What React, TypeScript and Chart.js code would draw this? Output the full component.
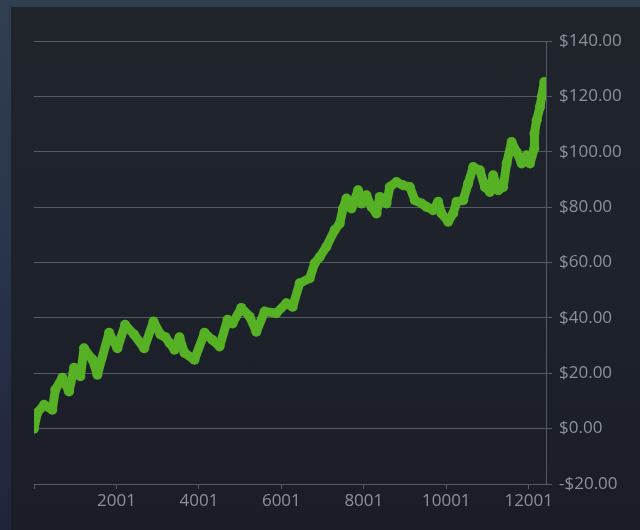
import React, { useEffect, useRef } from "react";
import { Chart, registerables } from "chart.js";

Chart.register(...registerables);

// trade index (x) and running profit in dollars (y)
const steps: number[] = [
  1, 81, 244, 445, 518, 688, 851, 973, 1126, 1215, 1417, 1539, 1823, 2024, 2211, 2430,
  2673, 2899, 3069, 3190, 3287, 3409, 3530, 3651, 3894, 4137, 4332, 4502, 4696, 4818,
  5029, 5231, 5394, 5595, 5879, 6122, 6275, 6445, 6688, 6809, 6931, 7093, 7295, 7417,
  7497, 7580, 7701, 7862, 7944, 8065, 8187, 8308, 8388, 8551, 8631, 8794, 8954, 9117,
  9238, 9401, 9522, 9683, 9804, 9887, 10047, 10168, 10251, 10411, 10532, 10654, 10816,
  10938, 11059, 11139, 11261, 11382, 11465, 11586, 11708, 11829, 11951, 12031, 12136,
  12140, 12194, 12274, 12315, 12378,
];
const profit: number[] = [
  0, 5.7, 8.6, 6.8, 14, 18.4, 13.4, 22, 18.9, 29, 25, 19.5, 34.6, 29, 37.5, 34,
  29, 38.7, 34, 33, 31, 28.5, 33, 27.4, 24.9, 34.6, 32, 29.7, 39.3, 38,
  43.6, 40.5, 35, 42.3, 41.7, 45.3, 44, 52.5, 54.3, 59.7, 62, 65.7, 71.7, 74.1,
  79.5, 83.1, 79.5, 86.1, 81.3, 84.3, 80.1, 77.7, 83.7, 81.3, 87.3, 89.1, 87.9, 87.3,
  82.5, 81.3, 80.1, 78.9, 81.9, 77.7, 74.7, 77.7, 81.9, 82.5, 88.5, 94.5, 93.3,
  87.3, 85.5, 91.5, 86.1, 87.3, 95.8, 103.5, 99.9, 95.8, 98.7, 95.8, 101.2,
  106.6, 111.4, 116.2, 119.8, 125.2,
];
const xTicks: number[] = [1, 2001, 4001, 6001, 8001, 10001, 12001];
const yTicks: number[] = [-20, 0, 20, 40, 60, 80, 100, 120, 140];
const xMax = 12420;

const GRID = "#555b66";
const TEXT = "#8c929b";
const GREEN = "#56b125";

export default function App() {
  const ref = useRef<HTMLCanvasElement | null>(null);

  useEffect(() => {
    if (!ref.current) return;
    const chart = new Chart(ref.current, {
      type: "line",
      data: {
        datasets: [
          {
            data: steps.map((s, i) => ({ x: s, y: profit[i] })),
            borderColor: GREEN,
            backgroundColor: GREEN,
            borderWidth: 9,
            borderJoinStyle: "round",
            borderCapStyle: "round",
            pointRadius: 5,
            pointBorderWidth: 0,
            pointBackgroundColor: GREEN,
            tension: 0,
            fill: false,
          },
        ],
      },
      options: {
        animation: false,
        responsive: true,
        maintainAspectRatio: false,
        layout: { padding: { left: 34, top: 41, right: 0, bottom: 0 } },
        plugins: { legend: { display: false }, tooltip: { enabled: false } },
        scales: {
          x: {
            type: "linear",
            min: 1,
            max: xMax,
            afterBuildTicks: (scale: any) => {
              scale.ticks = xTicks.map((v) => ({ value: v }));
            },
            afterFit: (scale: any) => {
              scale.height = 46;
            },
            grid: {
              drawOnChartArea: false,
              drawTicks: true,
              tickLength: 5,
              color: GRID,
            },
            border: { display: true, color: GRID, width: 1 },
            ticks: {
              color: TEXT,
              font: { family: "'Open Sans'", size: 17 },
              padding: 2,
              maxRotation: 0,
              autoSkip: false,
              callback: (v: any) => (v === 1 ? "" : String(v)),
            },
          },
          y: {
            type: "linear",
            position: "right",
            min: -20,
            max: 140,
            afterBuildTicks: (scale: any) => {
              scale.ticks = yTicks.map((v) => ({ value: v }));
            },
            afterFit: (scale: any) => {
              scale.width = 94;
            },
            grid: {
              drawOnChartArea: true,
              drawTicks: true,
              tickLength: 6,
              color: GRID,
            },
            border: { display: true, color: GRID, width: 1 },
            ticks: {
              color: TEXT,
              font: { family: "'Open Sans'", size: 17 },
              padding: 7,
              callback: (v: any) =>
                (v < 0 ? "-" : "") + "$" + Math.abs(Number(v)).toFixed(2),
            },
          },
        },
      },
    });
    return () => chart.destroy();
  }, []);

  return (
    <div
      style={{
        position: "fixed",
        left: 0,
        top: 0,
        width: 640,
        height: 530,
        background: "linear-gradient(180deg, #2f3f50 0%, #28344a 50%, #20243a 100%)",
        overflow: "hidden",
      }}
    >
      <div
        style={{
          position: "absolute",
          left: 11,
          top: 7,
          width: 629,
          height: 523,
          background: "linear-gradient(180deg, #20252c 0%, #1e222b 50%, #1a1d28 100%)",
        }}
      />
      <div style={{ position: "absolute", left: 0, top: 0, width: 640, height: 530 }}>
        <canvas ref={ref} />
      </div>
    </div>
  );
}
